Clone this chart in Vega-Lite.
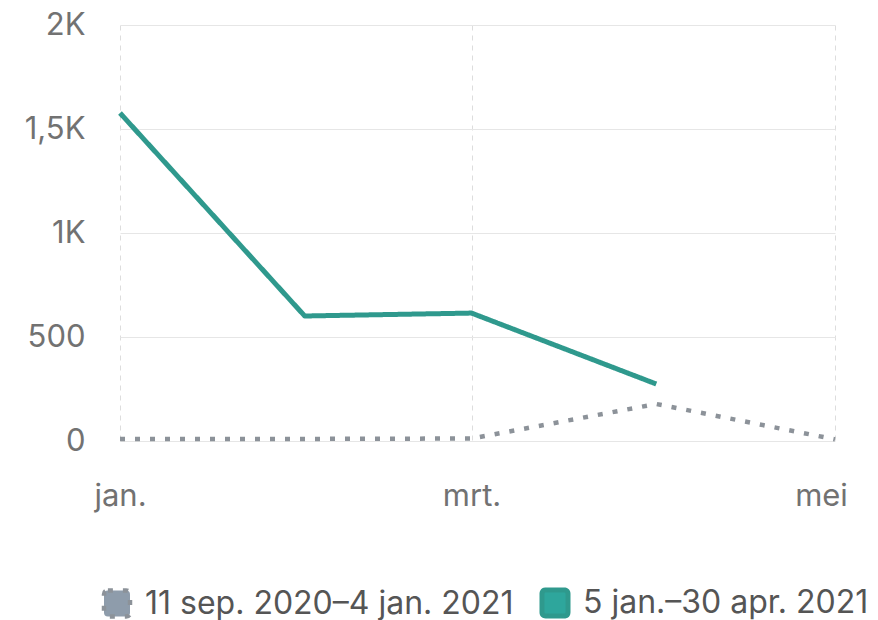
{
  "$schema": "https://vega.github.io/schema/vega-lite/v6.json",
  "autosize": "none",
  "width": 715,
  "height": 416,
  "padding": {"left": 120, "top": 25, "right": 43, "bottom": 179},
  "background": "white",
  "config": {
    "view": {"stroke": null},
    "font": "Inter"
  },
  "data": {
    "values": [
      {"date": "2021-01-01", "value": 10, "period": "11 sep. 2020–4 jan. 2021", "legendLabel": "11 sep. 2020–4 jan. 2021"},
      {"date": "2021-02-01", "value": 10, "period": "11 sep. 2020–4 jan. 2021", "legendLabel": "11 sep. 2020–4 jan. 2021"},
      {"date": "2021-03-01", "value": 12, "period": "11 sep. 2020–4 jan. 2021", "legendLabel": "11 sep. 2020–4 jan. 2021"},
      {"date": "2021-04-01", "value": 178, "period": "11 sep. 2020–4 jan. 2021", "legendLabel": "11 sep. 2020–4 jan. 2021"},
      {"date": "2021-05-01", "value": 8, "period": "11 sep. 2020–4 jan. 2021", "legendLabel": "11 sep. 2020–4 jan. 2021"},
      {"date": "2021-01-01", "value": 1577, "period": "5 jan.–30 apr. 2021", "legendLabel": "5 jan.–30 apr. 2021"},
      {"date": "2021-02-01", "value": 601, "period": "5 jan.–30 apr. 2021", "legendLabel": "5 jan.–30 apr. 2021"},
      {"date": "2021-03-01", "value": 615, "period": "5 jan.–30 apr. 2021", "legendLabel": "5 jan.–30 apr. 2021"},
      {"date": "2021-04-01", "value": 274, "period": "5 jan.–30 apr. 2021", "legendLabel": "5 jan.–30 apr. 2021"}
    ]
  },
  "encoding": {
    "x": {
      "field": "date",
      "type": "temporal",
      "scale": {"type": "utc", "domain": [{"year": 2021, "month": 1, "date": 1, "utc": true}, {"year": 2021, "month": 5, "date": 1, "utc": true}]},
      "axis": {
        "title": null,
        "domain": false,
        "ticks": false,
        "tickCount": {"interval": "month", "step": 2},
        "labelExpr": "['jan.','feb.','mrt.','apr.','mei','jun.'][utcmonth(datum.value)]",
        "labelFontSize": 31,
        "labelColor": "#727272",
        "labelPadding": 55,
        "labelBaseline": "middle",
        "labelFlush": false,
        "labelAlign": "center",
        "labelOffset": {"condition": {"test": "utcmonth(datum.value) == 4", "value": -14}, "value": 0},
        "grid": true,
        "gridDash": [5, 5],
        "gridColor": "#dddddd",
        "gridWidth": 1
      }
    },
    "y": {
      "field": "value",
      "type": "quantitative",
      "scale": {"domain": [0, 2000]},
      "axis": {
        "title": null,
        "domain": false,
        "ticks": false,
        "values": [0, 500, 1000, 1500, 2000],
        "labelExpr": "replace(replace(format(datum.value,'~s'),'.',','),'k','K')",
        "labelFontSize": 31,
        "labelColor": "#727272",
        "labelPadding": 35,
        "gridColor": "#e6e6e6",
        "gridWidth": 1
      }
    }
  },
  "layer": [
    {
      "mark": {"type": "point", "filled": true, "opacity": 0, "shape": "square"},
      "encoding": {
        "fill": {
          "field": "legendLabel",
          "type": "nominal",
          "sort": ["11 sep. 2020–4 jan. 2021", "5 jan.–30 apr. 2021"],
          "scale": {"domain": ["11 sep. 2020–4 jan. 2021", "5 jan.–30 apr. 2021"], "range": ["#8e9cab", "#2ea69c"]},
          "legend": {
            "title": null,
            "orient": "none",
            "legendX": -19,
            "legendY": 562,
            "direction": "horizontal",
            "labelFontSize": 32,
            "labelColor": "#555555",
            "labelLimit": 0,
            "symbolType": "M -0.7 -1 L 0.7 -1 Q 1 -1 1 -0.7 L 1 0.7 Q 1 1 0.7 1 L -0.7 1 Q -1 1 -1 0.7 L -1 -0.7 Q -1 -1 -0.7 -1 Z",
            "symbolSize": 676,
            "symbolOpacity": 1,
            "symbolStrokeWidth": 0,
            "symbolOffset": 0,
            "labelOffset": 12,
            "columnPadding": 18
          }
        }
      }
    },
    {
      "mark": {"type": "line", "strokeCap": "butt", "strokeJoin": "round"},
      "encoding": {
        "color": {
          "field": "period",
          "type": "nominal",
          "scale": {"domain": ["11 sep. 2020–4 jan. 2021", "5 jan.–30 apr. 2021"], "range": ["#8c9299", "#2f998d"]},
          "legend": null
        },
        "strokeDash": {
          "field": "period",
          "type": "nominal",
          "scale": {"domain": ["11 sep. 2020–4 jan. 2021", "5 jan.–30 apr. 2021"], "range": [[5, 10], [1, 0]]},
          "legend": null
        },
        "strokeWidth": {
          "field": "period",
          "type": "nominal",
          "scale": {"domain": ["11 sep. 2020–4 jan. 2021", "5 jan.–30 apr. 2021"], "range": [4.5, 5]},
          "legend": null
        }
      }
    }
  ]
}
